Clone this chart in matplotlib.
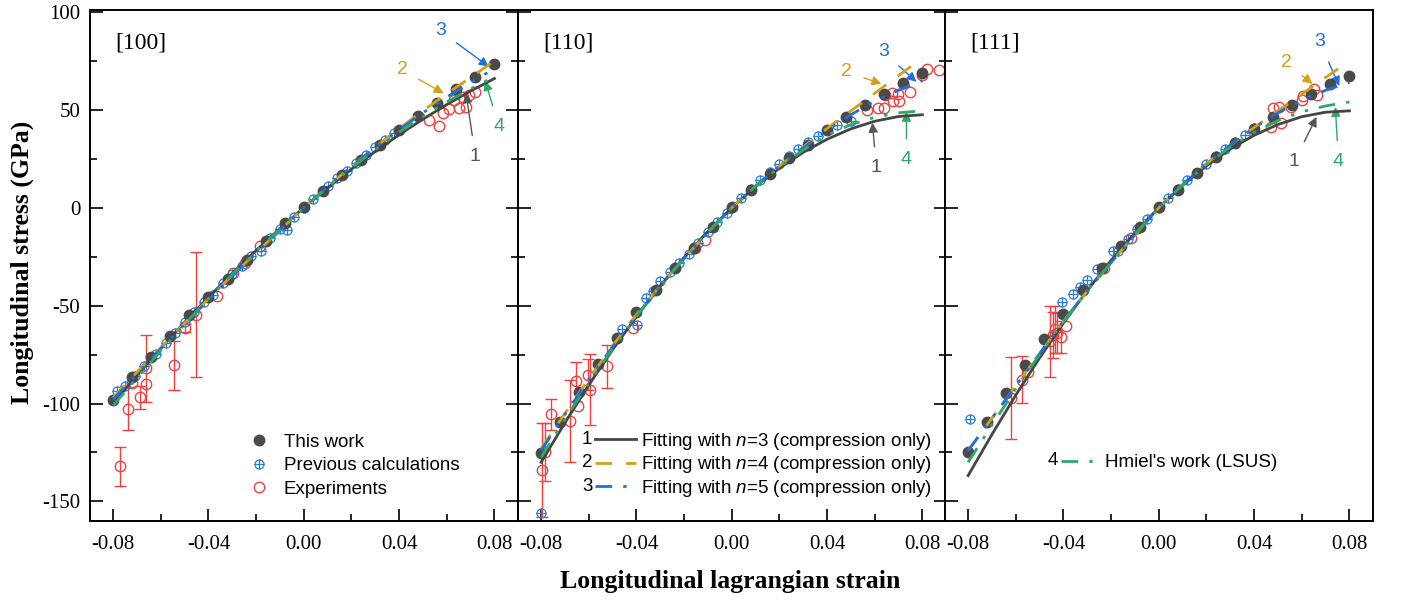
import matplotlib
matplotlib.use("Agg")
import matplotlib.pyplot as plt
from matplotlib.lines import Line2D
from matplotlib.text import Text
from matplotlib.legend_handler import HandlerBase
from matplotlib.ticker import MultipleLocator

plt.rcParams['axes.unicode_minus'] = False
plt.rcParams['font.family'] = 'Liberation Serif'
plt.rcParams['mathtext.fontset'] = 'custom'
plt.rcParams['mathtext.it'] = 'Liberation Sans:italic'
plt.rcParams['mathtext.rm'] = 'Liberation Sans'

SANS = 'Liberation Sans'

# ---- data ----
panels = ['[100]', '[110]', '[111]']

# "This work" strains
tw_strain = [-0.08, -0.072, -0.064, -0.056, -0.048, -0.040, -0.032, -0.024, -0.016, -0.008, 0.0,
             0.008, 0.016, 0.024, 0.032, 0.040, 0.048, 0.056, 0.064, 0.072, 0.08]
tw_100 = [-98, -86.6, -76, -65.7, -55, -45.6, -36.2, -26.8, -17.2, -7.8, 0.3,
          8.3, 16.8, 24.5, 32.1, 39.5, 46.9, 53.7, 60.5, 67, 73.5]
tw_110 = [-125.5, -109.3, -94.2, -79.8, -66.5, -53.4, -42, -31, -20.5, -10, 0.3,
          9, 17.2, 25.3, 32.1, 39.8, 46.3, 52.6, 58, 63.6, 68.7]
tw_111 = [-124.7, -109.3, -94.6, -80.1, -66.8, -54.1, -41.8, -30.8, -19.7, -9.8, 0.3,
          9.2, 17.7, 25.7, 33.3, 40.3, 46.6, 52.6, 58, 63.3, 67.5]

# fitted curves and Hmiel's work
fit_strain = [-0.08, -0.07, -0.06, -0.05, -0.04, -0.03, -0.02, -0.01, 0.0,
              0.01, 0.02, 0.03, 0.04, 0.05, 0.06, 0.07, 0.08]
n3_100 = [-100, -85.6, -71.8, -58.5, -45.8, -33.5, -21.8, -10.6, 0, 10.1, 19.7, 28.7, 37.3, 45.2, 52.7, 59.6, 66.0]
n4_100 = [-97, -84, -71.5, -59, -46.5, -34.5, -23, -11.5, 0, 10.8, 21.2, 31, 40.5, 49.5, 58.2, 66.5, 75]
n5_100 = [-98, -85, -72, -59.5, -47, -35, -23, -11.5, 0, 10.7, 21, 30.7, 39.8, 48.5, 56.5, 64, 71]
hm_100 = [-101, -87, -73, -59.5, -46.5, -34, -22.3, -11, 0, 10.4, 20.3, 29.7, 38.6, 46.5, 54, 60.7, 67]

n3_110 = [-130, -109.8, -90.6, -72.5, -55.6, -39.9, -25.4, -12.1, 0, 10.8, 20.2, 28.3, 35.0, 40.3, 44.2, 46.6, 47.5]
n4_110 = [-123, -105, -87.5, -70.5, -54.5, -39.8, -25.8, -12.5, 0, 11.2, 21.3, 31, 40.5, 49.5, 58.5, 67.5, 76.5]
n5_110 = [-124, -105.5, -88, -71, -55, -40, -26, -12.6, 0, 11.1, 21.2, 30.5, 39.5, 47.5, 54.5, 60, 65]
hm_110 = [-127.5, -108, -89.5, -72, -55.5, -40, -25.8, -12.4, 0, 11, 20.8, 29.5, 37, 42.5, 46.2, 48.5, 49.5]

n3_111 = [-136.8, -115.8, -95.7, -76.7, -58.9, -42.2, -26.9, -12.8, 0, 11.4, 21.4, 30.0, 37.0, 42.5, 46.5, 48.8, 49.5]
n4_111 = [-124, -107.5, -91, -74.5, -58, -42.5, -28, -13.8, 0, 11.8, 22.5, 32, 41, 49.5, 58, 66.5, 75]
n5_111 = [-124, -107.5, -91, -74.5, -58, -42.5, -28, -13.8, 0, 11.8, 22.5, 32, 40.8, 48.5, 55, 60, 64]
hm_111 = [-130, -111, -92.5, -75, -58, -42.5, -28, -13.5, 0, 11.6, 22, 31, 38.5, 44.5, 49, 52, 54]

# previous calculations
pc_strain_100 = [-0.0785, -0.075, -0.071, -0.067, -0.062, -0.058, -0.054, -0.050, -0.046, -0.042, -0.038,
                 -0.034, -0.030, -0.026, -0.022, -0.018, -0.014, -0.010, -0.0071, -0.004, 0.0, 0.004,
                 0.010, 0.014, 0.018, 0.022, 0.026, 0.030, 0.034, 0.038]
pc_100 = [-93.7, -91, -86, -81, -74.5, -69, -64, -58.5, -53, -48, -44.5,
          -38.5, -34, -29.5, -24.5, -22.3, -15.5, -11, -11.2, -4.5, 0, 4.5,
          11, 15, 19, 23, 27, 31, 34.5, 38]
pc_strain_110 = [-0.08, -0.046, -0.0397, -0.036, -0.033, -0.030, -0.026, -0.022, -0.018, -0.014, -0.010,
                 -0.006, -0.002, 0.004, 0.008, 0.012, 0.016, 0.020, 0.024, 0.028, 0.032, 0.036, 0.040,
                 0.044, 0.0502]
pc_110 = [-155.8, -62, -59.8, -46, -42.5, -37.6, -33, -28, -23.5, -18, -12.5,
          -7.5, -2.5, 4.8, 9.5, 14, 18.5, 22.5, 26.5, 30, 33.5, 36.5, 39.5,
          42.5, 44.4]
pc_strain_111 = [-0.0792, -0.0404, -0.036, -0.033, -0.030, -0.026, -0.0194, -0.017, -0.013, -0.009, -0.005,
                 0.0, 0.004, 0.008, 0.012, 0.016, 0.020, 0.024, 0.028, 0.032, 0.036, 0.0401]
pc_111 = [-107.7, -48.1, -44, -40.5, -37, -31.5, -22.3, -22, -16, -11, -6,
          0, 5, 9.5, 14, 18, 22.5, 26.5, 30, 33.5, 37, 40.7]

# experiments (strain, stress, error bar half-length)
ex_strain_100 = [-0.0771, -0.0739, -0.0722, -0.0687, -0.0663, -0.066, -0.0543, -0.0498, -0.0453, -0.0365,
                 -0.0295, -0.0246, -0.0182, 0.0525, 0.0567, 0.0585, 0.0609, 0.063, 0.065, 0.0668,
                 0.0682, 0.0692, 0.072]
ex_100 = [-132, -102.7, -89.3, -96.8, -90, -82, -80.4, -61.4, -54.6, -45.2,
          -33.3, -28.2, -19.7, 44.9, 41.5, 48.3, 50.3, 55.1, 50.8, 56.5,
          51.4, 57.6, 59.3]
ex_err_100 = [10, 11, 0, 6, 0, 17, 12.5, 2, 32, 0,
              0, 0, 0, 0, 0, 0, 0, 0, 0, 0,
              0, 0, 0]

ex_strain_110 = [-0.0796, -0.0782, -0.0757, -0.0679, -0.0652, -0.0647, -0.0603, -0.0596, -0.0522, -0.0414,
                 -0.0154, -0.0112, 0.0566, 0.0615, 0.064, 0.0643, 0.0671, 0.0699, 0.0678, 0.0702,
                 0.0749, 0.0797, 0.0818, 0.087]
ex_110 = [-134, -124.8, -105.6, -109, -88.6, -101.4, -85.2, -92.9, -81, -61.4,
          -20.6, -16.3, 50, 50.9, 50.9, 57.7, 58.5, 58.2, 54.7, 54.7,
          59.3, 67.9, 70.8, 70.4]
ex_err_110 = [24, 15, 7.7, 21, 10, 0, 7.7, 18, 11, 0,
              0, 0, 0, 0, 0, 0, 0, 0, 0, 0,
              0, 0, 0, 0]

ex_strain_111 = [-0.0621, -0.0572, -0.055, -0.0455, -0.0445, -0.0435, -0.0425, -0.041, -0.039, -0.0229,
                 -0.0117, 0.0471, 0.0478, 0.0503, 0.0513, 0.0555, 0.06, 0.0604, 0.0653, 0.0664]
ex_111 = [-97.1, -87.8, -84, -68.2, -65, -62, -64, -66, -60.5, -30.8,
          -15.5, 41.2, 50.9, 51.7, 43.5, 51.7, 55.1, 57.1, 60.7, 57.7]
ex_err_111 = [21, 12, 0, 18, 12, 12, 10, 8, 0, 0,
              0, 0, 0, 0, 0, 0, 0, 0, 0, 0]

# ---- styling ----
C_TW = '#4a4a4a'
C_N3 = '#454545'
C_N4 = '#d4a017'
C_N5 = '#1f6fe0'
C_HM = '#2ea866'
C_PC = '#2a7de1'
C_EX = '#f04040'
DASH_DDOT = (0, (6, 4, 1.2, 4, 1.2, 4))

fig = plt.figure(figsize=(14.02, 6.03), dpi=100)
W, H = 1402, 603
lefts = [90, 518, 945]
width = 428
top, bottom = 10, 521

data = [
    (tw_100, n3_100, n4_100, n5_100, hm_100, pc_strain_100, pc_100, ex_strain_100, ex_100, ex_err_100),
    (tw_110, n3_110, n4_110, n5_110, hm_110, pc_strain_110, pc_110, ex_strain_110, ex_110, ex_err_110),
    (tw_111, n3_111, n4_111, n5_111, hm_111, pc_strain_111, pc_111, ex_strain_111, ex_111, ex_err_111),
]

# annotation arrows: (label, color, text xy, tip xy)
arrows = [
    [('3', C_N5, (0.0573, 90.3), (0.0776, 72.1)),
     ('2', C_N4, (0.0412, 70.4), (0.0587, 58.5)),
     ('1', '#555555', (0.072, 26.2), (0.0681, 58.5)),
     ('4', C_HM, (0.0818, 41.5), (0.0762, 64.8))],
    [('3', C_N5, (0.0636, 79.6), (0.0775, 64.3)),
     ('2', C_N4, (0.0481, 69.4), (0.0628, 63.3)),
     ('1', '#555555', (0.0607, 20.4), (0.059, 43.4)),
     ('4', C_HM, (0.0733, 24.5), (0.0733, 49))],
    [('3', C_N5, (0.0674, 84.7), (0.0758, 62.2)),
     ('2', C_N4, (0.0536, 74), (0.0645, 63.3)),
     ('1', '#555555', (0.0569, 23.5), (0.0662, 46.4)),
     ('4', C_HM, (0.0754, 23.5), (0.0741, 51.5))],
]


class NumHandler(HandlerBase):
    def __init__(self, num):
        super().__init__()
        self.num = num

    def create_artists(self, legend, orig, xd, yd, w, h, fs, trans):
        off = fs * 0.72
        t = Text(-xd, -yd + h / 2, self.num, fontsize=fs, fontfamily=SANS,
                 va='center', ha='left', transform=trans)
        ln = Line2D([-xd + off, -xd + w], [-yd + h / 2] * 2)
        ln.update_from(orig)
        ln.set_marker('')
        ln.set_transform(trans)
        return [t, ln]


axes = []
for i in range(3):
    ax = fig.add_axes([lefts[i] / W, (H - bottom) / H, width / W, (bottom - top) / H])
    axes.append(ax)
    tw, n3, n4, n5, hm, pcs, pc, exs, ex, exe = data[i]

    # experiments
    eb_x = [s for s, e in zip(exs, exe) if e > 0]
    eb_y = [v for v, e in zip(ex, exe) if e > 0]
    eb_e = [e for e in exe if e > 0]
    ax.errorbar(eb_x, eb_y, yerr=eb_e, fmt='none', ecolor=C_EX, elinewidth=1,
                capsize=4, capthick=1, zorder=2)
    h_ex, = ax.plot(exs, ex, 'o', ms=7.5, mfc='none', mec=C_EX, mew=1, ls='none', zorder=3)
    # previous calculations
    h_pc1, = ax.plot(pcs, pc, 'o', ms=6.5, mfc='none', mec=C_PC, mew=0.9, ls='none', zorder=3)
    h_pc2, = ax.plot(pcs, pc, '+', ms=6.5, mec=C_PC, mew=0.9, ls='none', zorder=3)
    # this work
    h_tw, = ax.plot(tw_strain, tw, 'o', ms=7.5, color=C_TW, ls='none', zorder=4)

    # fits
    l3, = ax.plot(fit_strain, n3, color=C_N3, lw=2, zorder=5)
    l4, = ax.plot(fit_strain, n4, color=C_N4, lw=2, ls=(0, (6, 5)), zorder=5)
    l5, = ax.plot(fit_strain, n5, color=C_N5, lw=2, ls=DASH_DDOT, zorder=5)
    lh, = ax.plot(fit_strain, hm, color=C_HM, lw=2, ls=DASH_DDOT, zorder=5)

    for num, col, txy, tip in arrows[i]:
        ax.annotate(num, xy=tip, xytext=txy, color=col, fontsize=14, fontfamily=SANS,
                    ha='center', va='center',
                    arrowprops=dict(arrowstyle='-|>', color=col, lw=1,
                                    mutation_scale=14, shrinkA=7, shrinkB=0))

    ax.set_xlim(-0.0897, 0.0899)
    ax.set_ylim(-160, 101)
    ax.xaxis.set_major_locator(MultipleLocator(0.04))
    ax.xaxis.set_minor_locator(MultipleLocator(0.02))
    ax.yaxis.set_major_locator(MultipleLocator(50))
    ax.yaxis.set_minor_locator(MultipleLocator(25))
    ax.tick_params(which='both', direction='in', labelsize=15, right=(i < 2),
                   left=True, top=False)
    ax.tick_params(which='major', length=9, width=1.2)
    ax.tick_params(which='minor', length=5, width=1.2)
    ax.tick_params(axis='x', pad=10)
    ax.tick_params(axis='y', pad=7)
    ax.set_xticks([-0.08, -0.04, 0.0, 0.04, 0.08])
    ax.set_xticklabels(['-0.08', '-0.04', '0.00', '0.04', '0.08'])
    if i > 0:
        ax.tick_params(labelleft=False)
    for sp in ax.spines.values():
        sp.set_linewidth(1.4)
    ax.text(0.06, 0.935, panels[i], transform=ax.transAxes, fontsize=17, va='center')

    if i == 0:
        ax.legend([h_tw, (h_pc1, h_pc2), h_ex], ['This work', 'Previous calculations', 'Experiments'],
                  loc='lower left', bbox_to_anchor=(0.33, 0.012), frameon=False,
                  prop={'family': SANS, 'size': 13.5}, handlelength=1.2, handletextpad=0.7,
                  labelspacing=0.35)
    elif i == 1:
        ax.legend([l3, l4, l5],
                  ['Fitting with $n$=3 (compression only)',
                   'Fitting with $n$=4 (compression only)',
                   'Fitting with $n$=5 (compression only)'],
                  handler_map={l3: NumHandler('1'), l4: NumHandler('2'), l5: NumHandler('3')},
                  loc='lower left', bbox_to_anchor=(0.11, 0.01), frameon=False,
                  prop={'family': SANS, 'size': 13.5}, handlelength=2.9, handletextpad=0.25,
                  labelspacing=0.14)
    else:
        ax.legend([lh], ["Hmiel's work (LSUS)"], handler_map={lh: NumHandler('4')},
                  loc='lower left', bbox_to_anchor=(0.2, 0.064), frameon=False,
                  prop={'family': SANS, 'size': 13.5}, handlelength=2.8, handletextpad=0.25)

axes[0].set_yticks([-150, -100, -50, 0, 50, 100])

fig.text(0.0157, 0.5655, 'Longitudinal stress (GPa)', rotation=90, fontsize=18.5,
         fontweight='bold', ha='center', va='center')
fig.text(0.521, 0.036, 'Longitudinal lagrangian strain', fontsize=18.5,
         fontweight='bold', ha='center', va='center')

fig.savefig('out.png', dpi=100)
